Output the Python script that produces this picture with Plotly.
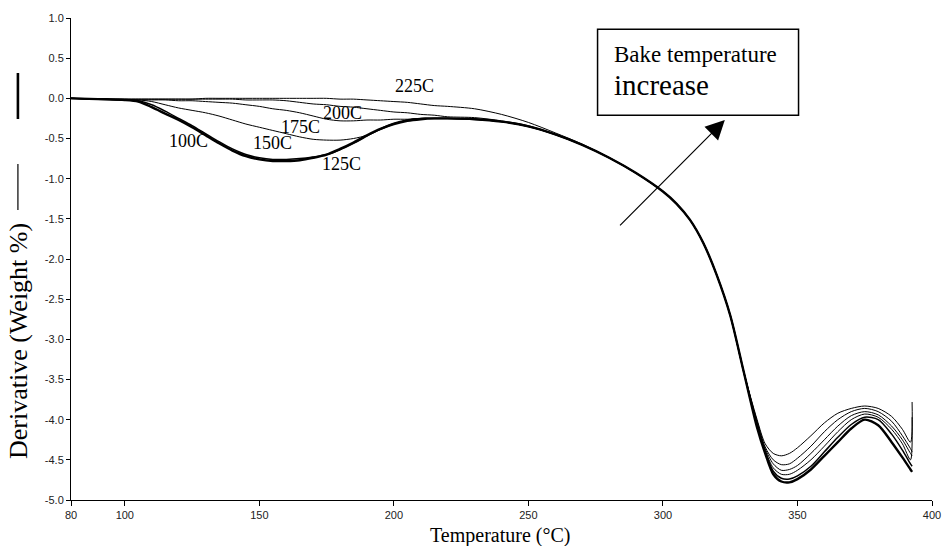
import plotly.graph_objects as go

# ---------------- data ----------------
TEMP = [80, 90, 100,
        105, 110, 115, 120, 125, 130, 135, 140, 145, 150, 155, 160,
        165, 170, 175, 180, 185, 190, 195, 200, 205, 210, 215, 220,
        230, 240, 250, 260, 270, 280, 290, 300,
        305, 310, 315, 320, 325, 330, 335,
        338, 341, 344, 347, 350,
        355, 360, 365, 370, 375, 380, 385,
        389, 392, 392.6]

Y100 = [0.0, -0.01, -0.02,
        -0.04, -0.11, -0.19, -0.27, -0.36, -0.46, -0.56, -0.65, -0.72, -0.76, -0.78, -0.78,
        -0.77, -0.74, -0.70, -0.63, -0.55, -0.46, -0.38, -0.32, -0.28, -0.26, -0.25, -0.25,
        -0.26, -0.29, -0.35, -0.45, -0.58, -0.74, -0.93, -1.16,
        -1.31, -1.51, -1.80, -2.20, -2.70, -3.40, -4.10,
        -4.42, -4.68, -4.77, -4.78, -4.74,
        -4.62, -4.45, -4.28, -4.11, -4.00, -4.07, -4.28,
        -4.47, -4.62, -4.65]

Y125 = [0.0, -0.01, -0.02,
        -0.03, -0.08, -0.16, -0.25, -0.34, -0.44, -0.54, -0.63, -0.70, -0.74, -0.76, -0.76,
        -0.75, -0.73, -0.70, -0.64, -0.56, -0.47, -0.38, -0.31, -0.27, -0.25, -0.25, -0.25,
        -0.26, -0.29, -0.35, -0.45, -0.58, -0.74, -0.93, -1.16,
        -1.31, -1.51, -1.80, -2.20, -2.70, -3.40, -4.08,
        -4.40, -4.64, -4.73, -4.74, -4.70,
        -4.58, -4.40, -4.22, -4.06, -3.97, -4.00, -4.18,
        -4.38, -4.55, -4.58]

Y150 = [0.0, -0.01, -0.02,
        -0.02, -0.04, -0.08, -0.12, -0.15, -0.18, -0.22, -0.27, -0.32, -0.36, -0.40, -0.44,
        -0.48, -0.51, -0.52, -0.52, -0.50, -0.46, -0.39, -0.32, -0.27, -0.25, -0.25, -0.25,
        -0.26, -0.29, -0.35, -0.45, -0.58, -0.74, -0.93, -1.16,
        -1.31, -1.51, -1.80, -2.20, -2.70, -3.40, -4.06,
        -4.38, -4.60, -4.68, -4.68, -4.63,
        -4.50, -4.33, -4.15, -4.00, -3.93, -3.97, -4.12,
        -4.30, -4.50, -3.97]

Y175 = [0.0, -0.01, -0.02,
        -0.02, -0.02, -0.02, -0.03, -0.03, -0.04, -0.05, -0.06, -0.08, -0.10, -0.13, -0.15,
        -0.18, -0.22, -0.26, -0.28, -0.28, -0.27, -0.27, -0.26, -0.26, -0.25, -0.25, -0.25,
        -0.26, -0.29, -0.35, -0.45, -0.58, -0.74, -0.93, -1.16,
        -1.31, -1.51, -1.80, -2.20, -2.70, -3.40, -4.04,
        -4.36, -4.55, -4.63, -4.62, -4.57,
        -4.42, -4.25, -4.08, -3.95, -3.90, -3.94, -4.08,
        -4.25, -4.42, -4.45]

Y200 = [0.0, -0.01, -0.01,
        -0.01, -0.01, -0.01, -0.01, -0.01, -0.01, -0.01, -0.01, -0.02, -0.02, -0.02, -0.03,
        -0.05, -0.07, -0.08, -0.10, -0.11, -0.13, -0.15, -0.17, -0.18, -0.20, -0.21, -0.23,
        -0.24, -0.28, -0.34, -0.45, -0.58, -0.74, -0.93, -1.16,
        -1.31, -1.51, -1.80, -2.20, -2.70, -3.40, -4.02,
        -4.34, -4.50, -4.56, -4.55, -4.48,
        -4.33, -4.15, -4.00, -3.90, -3.86, -3.90, -4.02,
        -4.20, -4.36, -4.40]

Y225 = [0.0, -0.01, -0.01,
        -0.01, -0.01, -0.01, -0.01, -0.01, 0.0, 0.0, 0.0, 0.0, 0.0, 0.0, 0.0,
        0.0, 0.0, 0.0, -0.01, -0.01, -0.02, -0.03, -0.04, -0.05, -0.07, -0.09, -0.10,
        -0.13, -0.20, -0.30, -0.43, -0.57, -0.74, -0.93, -1.16,
        -1.31, -1.51, -1.80, -2.20, -2.70, -3.40, -4.00,
        -4.30, -4.42, -4.45, -4.42, -4.35,
        -4.20, -4.04, -3.92, -3.86, -3.83, -3.86, -3.96,
        -4.12, -4.28, -3.78]

SERIES = ["100C", "125C", "150C", "175C", "200C", "225C"]
SERIES_Y = [Y100, Y125, Y150, Y175, Y200, Y225]
LINE_W = [2.4, 1.5, 1.0, 1.0, 1.0, 1.0]

LABEL_X = [123.5, 180.5, 154.8, 165.4, 180.8, 207.7]
LABEL_Y = [-0.53, -0.82, -0.55, -0.36, -0.18, 0.15]

X_TICKS = [80, 100, 150, 200, 250, 300, 350, 400]
Y_TICKS = [1.0, 0.5, 0.0, -0.5, -1.0, -1.5, -2.0, -2.5, -3.0, -3.5, -4.0, -4.5, -5.0]
Y_TICK_TEXT = ["1.0", "0.5", "0.0", "-0.5", "-1.0", "-1.5", "-2.0", "-2.5",
               "-3.0", "-3.5", "-4.0", "-4.5", "-5.0"]

BOX = [275.7, 350.4, -0.212, 0.859]      # x0, x1, y0, y1 (data)
ARROW_TAIL = [283.5, -1.60]
ARROW_HEAD = [323.0, -0.27]

SERIF = "Times New Roman, Liberation Serif, serif"
SANS = "Arial, Liberation Sans, sans-serif"

fig = go.Figure()
for name, ys, w in zip(SERIES, SERIES_Y, LINE_W):
    fig.add_trace(go.Scatter(x=TEMP, y=ys, mode="lines", name=name,
                             line=dict(color="black", width=w, shape="spline", smoothing=0.8),
                             showlegend=False))

annotations = []
for name, lx, ly in zip(SERIES, LABEL_X, LABEL_Y):
    annotations.append(dict(x=lx, y=ly, xref="x", yref="y", text=name, showarrow=False,
                            font=dict(family=SERIF, size=18, color="black")))

# box texts
annotations.append(dict(x=281.0, y=0.548, xref="x", yref="y", text="Bake temperature",
                        xanchor="left", yanchor="middle", showarrow=False,
                        font=dict(family=SERIF, size=23, color="black")))
annotations.append(dict(x=281.0, y=0.17, xref="x", yref="y", text="increase",
                        xanchor="left", yanchor="middle", showarrow=False,
                        font=dict(family=SERIF, size=29, color="black")))
# arrow
annotations.append(dict(x=ARROW_HEAD[0], y=ARROW_HEAD[1], ax=ARROW_TAIL[0], ay=ARROW_TAIL[1],
                        xref="x", yref="y", axref="x", ayref="y", text="",
                        showarrow=True, arrowhead=2, arrowsize=3.2, arrowwidth=1.2,
                        arrowcolor="black"))
# axis titles
annotations.append(dict(x=0, y=(500 - 341) / 482, xref="paper", yref="paper", xshift=-53,
                        text="Derivative (Weight %)",
                        textangle=-90, showarrow=False, xanchor="center", yanchor="middle",
                        font=dict(family=SERIF, size=26, color="black")))
annotations.append(dict(x=0.4985, y=0, xref="paper", yref="paper", yshift=-35,
                        text="Temperature (°C)", showarrow=False,
                        xanchor="center", yanchor="middle",
                        font=dict(family=SERIF, size=20, color="black")))

# legend-like line marks next to the y title
px_x = (18 - 71.6) / 869.4
fig.add_shape(type="line", xref="paper", yref="paper", x0=px_x, x1=px_x,
              y0=(500 - 164) / 482, y1=(500 - 210) / 482,
              line=dict(color="black", width=1.2))
fig.add_shape(type="line", xref="paper", yref="paper", x0=px_x, x1=px_x,
              y0=(500 - 73) / 482, y1=(500 - 119) / 482,
              line=dict(color="black", width=2.6))

fig.add_shape(type="rect", xref="x", yref="y", x0=BOX[0], x1=BOX[1], y0=BOX[2], y1=BOX[3],
              line=dict(color="black", width=1.5), fillcolor="white", layer="below")

fig.update_layout(
    width=951, height=546,
    margin=dict(l=71, r=10, t=18, b=46),
    paper_bgcolor="white", plot_bgcolor="white",
    annotations=annotations,
    xaxis=dict(range=[80, 400], tickvals=X_TICKS, ticks="outside", ticklen=5,
               tickcolor="black", showline=True, linecolor="black", linewidth=1,
               showgrid=False, zeroline=False,
               tickfont=dict(family=SANS, size=11, color="#222")),
    yaxis=dict(range=[-5, 1], tickvals=Y_TICKS, ticktext=Y_TICK_TEXT, ticks="outside",
               ticklen=4, tickcolor="black", showline=True, linecolor="black", linewidth=1,
               showgrid=False, zeroline=False,
               tickfont=dict(family=SANS, size=11, color="#222")),
)

fig.write_html("out.html")
